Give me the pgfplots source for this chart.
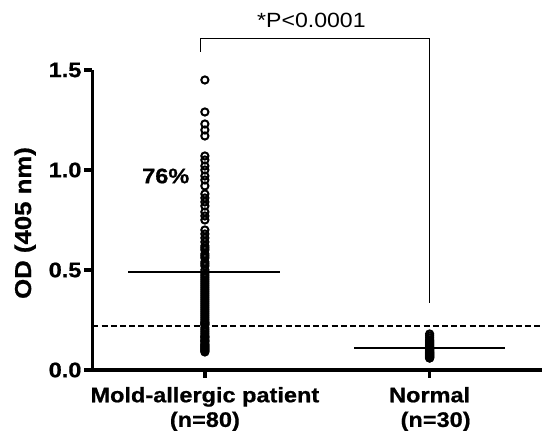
\documentclass[border=0pt]{standalone}
\usepackage{pgfplots}
\pgfplotsset{compat=1.18}
\usepackage{fontspec}
\setmainfont{Liberation Sans}[FakeStretch=1.12, BoldFeatures={FakeBold=0.8}]
\begin{document}
\begin{tikzpicture}
\begin{axis}[
  at={(0,0)}, anchor=south west,
  scale only axis,
  width=224.75pt, height=150pt,
  xmin=-0.5, xmax=1.5,
  ymin=0, ymax=1.5,
  clip=false,
  axis lines=left,
  axis line style={-, line width=1.7pt, black},
  tick style={line width=1.7pt, black},
  tick align=outside,
  major tick length=4pt,
  xtick={0,1},
  xticklabels={{Mold-allergic patient\\(n=80)},{Normal\\\hspace*{6pt}(n=30)}},
  xticklabel style={align=center, font=\fontsize{10.5}{12.3}\selectfont\bfseries, yshift=-1pt},
  ytick={0,0.5,1,1.5},
  yticklabel style={font=\fontsize{10.5}{12}\selectfont\bfseries, xshift=2pt,
    /pgf/number format/.cd, fixed, fixed zerofill, precision=1, assume math mode=true},
  ylabel={OD (405 nm)},
  ylabel style={at={(axis description cs:-0.15,0.49)}, anchor=center, font=\fontsize{11.5}{13}\selectfont\bfseries},
]
% mold-allergic patients (n=80)
\addplot[only marks, mark=o, mark size=1.8pt, mark options={line width=1pt, black}] coordinates {
(0,1.45)(0,1.29)(0,1.23)(0,1.20)(0,1.17)(0,1.07)(0,1.05)(0,1.02)(0,1.00)(0,0.97)
(0,0.95)(0,0.92)(0,0.88)(0,0.86)(0,0.84)(0,0.82)(0,0.79)(0,0.77)(0,0.75)(0,0.70)
(0,0.68)(0,0.66)(0,0.64)(0,0.62)(0,0.61)(0,0.60)(0,0.58)(0,0.57)(0,0.56)(0,0.54)
(0,0.53)(0,0.52)(0,0.50)(0,0.48)(0,0.47)(0,0.46)(0,0.45)(0,0.44)(0,0.43)(0,0.42)
(0,0.41)(0,0.40)(0,0.39)(0,0.38)(0,0.37)(0,0.36)(0,0.35)(0,0.34)(0,0.33)(0,0.32)
(0,0.31)(0,0.30)(0,0.29)(0,0.28)(0,0.27)(0,0.26)(0,0.25)(0,0.24)(0,0.235)(0,0.23)
(0,0.225)(0,0.21)(0,0.20)(0,0.19)(0,0.18)(0,0.17)(0,0.165)(0,0.16)(0,0.15)(0,0.145)
(0,0.14)(0,0.13)(0,0.125)(0,0.12)(0,0.115)(0,0.11)(0,0.105)(0,0.10)(0,0.095)(0,0.09)
};
% normal (n=30)
\addplot[only marks, mark=o, mark size=1.8pt, mark options={line width=1pt, black}] coordinates {
(1,0.18)(1,0.17)(1,0.16)(1,0.15)(1,0.145)(1,0.14)(1,0.135)(1,0.13)(1,0.125)(1,0.12)
(1,0.115)(1,0.11)(1,0.105)(1,0.10)(1,0.10)(1,0.095)(1,0.09)(1,0.09)(1,0.085)(1,0.085)
(1,0.08)(1,0.08)(1,0.075)(1,0.075)(1,0.07)(1,0.07)(1,0.065)(1,0.065)(1,0.06)(1,0.06)
};
% means
\addplot[black, line width=1.1pt] coordinates {(-0.34,0.49)(0.335,0.49)};
\addplot[black, line width=1.1pt] coordinates {(0.665,0.11)(1.335,0.11)};
% cutoff
\addplot[black, line width=1pt, dash pattern=on 3pt off 1.6pt] coordinates {(-0.5,0.22)(1.5,0.22)};
% significance bracket
\addplot[black, line width=0.6pt] coordinates {(-0.02,1.59)(-0.02,1.658)(1.0,1.658)(1.0,0.333)};
\node[font=\fontsize{10.3}{12}\selectfont] at (axis cs:0.474,1.75) {*P<0.0001};
\node[font=\fontsize{10.5}{12}\selectfont\bfseries] at (axis cs:-0.174,0.97) {76\%};
\end{axis}
\pgfresetboundingbox
\path (-46.25pt,-30.5pt) rectangle (224.75pt,185pt);
\end{tikzpicture}
\end{document}
